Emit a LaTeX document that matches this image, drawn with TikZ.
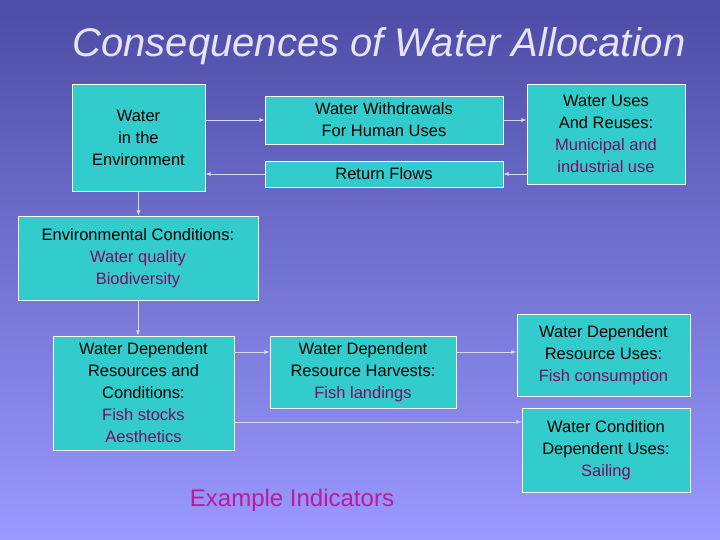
\documentclass[tikz,border=0pt]{standalone}
\usepackage{fontspec}
\setmainfont{Liberation Sans}
\usetikzlibrary{positioning,arrows}
\definecolor{boxfill}{HTML}{33CCCC}
\definecolor{subtext}{HTML}{80086A}
\definecolor{indtext}{HTML}{C0189A}
\begin{document}
\begin{tikzpicture}[x=1pt,y=-1pt]
   \tikzstyle{arrow} = [draw=white!85!blue,-latex,line width=0.8pt]
   \tikzset{box/.style = {rectangle, draw=white, fill=boxfill, line width=0.8pt, align=center, inner sep=0pt, font=\fontsize{16.5}{22}\selectfont}, }
   \shade[top color=blue!50!black!70!white, bottom color=blue!40!white] (0,0) rectangle (720,540);
   \useasboundingbox (0,0) rectangle (720,540);
   \node[font=\itshape\fontsize{40}{44}\selectfont, color=white!90!blue] (title) at (379,46) {Consequences of Water Allocation};

   \node[box, minimum width=133, minimum height=107] (env) at (138.5,137.5) {Water\\in the\\Environment};
   \node[box, minimum width=238, minimum height=48] (withdraw) at (384,120) {Water Withdrawals\\For Human Uses};
   \node[box, minimum width=238, minimum height=26] (return) at (384,174) {Return Flows};
   \node[box, minimum width=158, minimum height=100] (uses) at (606,134) {Water Uses\\And Reuses:\\{\color{subtext}Municipal and}\\{\color{subtext}industrial use}};
   \node[box, minimum width=240, minimum height=84] (cond) at (138,258) {Environmental Conditions:\\{\color{subtext}Water quality}\\{\color{subtext}Biodiversity}};
   \node[box, minimum width=181, minimum height=114] (resources) at (143.5,393) {Water Dependent\\Resources and\\Conditions:\\{\color{subtext}Fish stocks}\\{\color{subtext}Aesthetics}};
   \node[box, minimum width=186, minimum height=72] (harvest) at (363,372) {Water Dependent\\Resource Harvests:\\{\color{subtext}Fish landings}};
   \node[box, minimum width=173, minimum height=82] (resuses) at (603.5,355) {Water Dependent\\Resource Uses:\\{\color{subtext}Fish consumption}};
   \node[box, minimum width=168, minimum height=84] (conduses) at (606,450) {Water Condition\\Dependent Uses:\\{\color{subtext}Sailing}};
   \node[font=\fontsize{24}{28}\selectfont, color=indtext] (ind) at (292,500) {Example Indicators};
   \coordinate (hrow) at (0,352);
   \coordinate (crow) at (0,422);

   % flows
   \draw[arrow] (env.east |- withdraw) -- (withdraw.west);
   \draw[arrow] (return.west) -- (env.east |- return);
   \draw[arrow] (withdraw.east) -- (uses.west |- withdraw);
   \draw[arrow] (uses.west |- return) -- (return.east);
   \draw[arrow] (env.south) -- (env.south |- cond.north);
   \draw[arrow] (cond.south) -- (cond.south |- resources.north);
   \draw[arrow] (resources.east |- hrow) -- (harvest.west |- hrow);
   \draw[arrow] (harvest.east |- hrow) -- (resuses.west |- hrow);
   \draw[arrow] (resources.east |- crow) -- (conduses.west |- crow);
\end{tikzpicture}
\end{document}
